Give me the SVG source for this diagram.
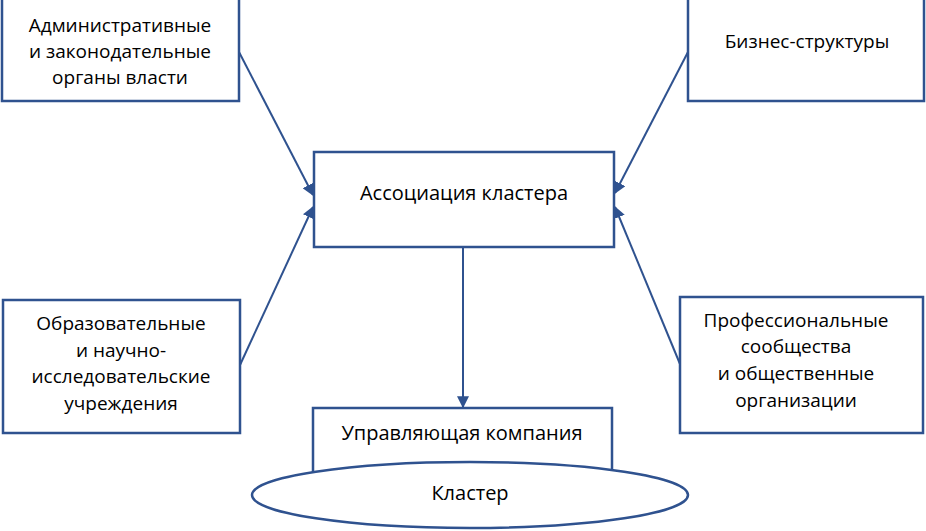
<svg xmlns="http://www.w3.org/2000/svg" width="926" height="531" viewBox="0 0 926 531">
<defs>
<style>
.box{fill:#fff;stroke:#2F528F;stroke-width:2.5}
.t{font-family:"Open Sans","Noto Sans",sans-serif;font-size:19px;fill:#000;text-anchor:middle}
.big{font-size:20px}
.ln{stroke:#2F528F;stroke-width:2;fill:none}
</style>
<marker id="ah" viewBox="0 0 10 10" refX="9" refY="5" markerWidth="6" markerHeight="6" orient="auto" markerUnits="strokeWidth">
<path d="M0,0 L10,5 L0,10 z" fill="#2F528F"/>
</marker>
</defs>
<g id="connectors">
<line class="ln" x1="239" y1="52" x2="313" y2="195" marker-end="url(#ah)"/>
<line class="ln" x1="240" y1="365" x2="313" y2="207" marker-end="url(#ah)"/>
<line class="ln" x1="688" y1="52" x2="615" y2="193" marker-end="url(#ah)"/>
<line class="ln" x1="680" y1="364" x2="615" y2="207" marker-end="url(#ah)"/>
<line class="ln" x1="463" y1="247" x2="463" y2="407" marker-end="url(#ah)"/>
</g>
<g id="admin">
<rect class="box" x="2" y="-2" width="237" height="103"/>
<text class="t" x="120" y="32">Административные</text>
<text class="t" x="120" y="58">и законодательные</text>
<text class="t" x="120" y="84">органы власти</text>
</g>
<g id="business">
<rect class="box" x="688" y="-2" width="236" height="103"/>
<text class="t" x="807" y="48">Бизнес-структуры</text>
</g>
<g id="association">
<rect class="box" x="314" y="152" width="300" height="95"/>
<text class="t big" x="464" y="200">Ассоциация кластера</text>
</g>
<g id="education">
<rect class="box" x="3" y="300" width="237" height="133"/>
<text class="t" x="121" y="330">Образовательные</text>
<text class="t" x="121" y="357">и научно-</text>
<text class="t" x="121" y="383">исследовательские</text>
<text class="t" x="121" y="410">учреждения</text>
</g>
<g id="professional">
<rect class="box" x="680" y="297" width="243" height="136"/>
<text class="t" x="796" y="327">Профессиональные</text>
<text class="t" x="796" y="353">сообщества</text>
<text class="t" x="796" y="380">и общественные</text>
<text class="t" x="796" y="407">организации</text>
</g>
<g id="management">
<rect class="box" x="313" y="408" width="299" height="70"/>
<text class="t big" x="462" y="440">Управляющая компания</text>
</g>
<g id="cluster">
<ellipse class="box" cx="470" cy="495" rx="218" ry="33"/>
<text class="t big" x="470" y="500">Кластер</text>
</g>
</svg>
